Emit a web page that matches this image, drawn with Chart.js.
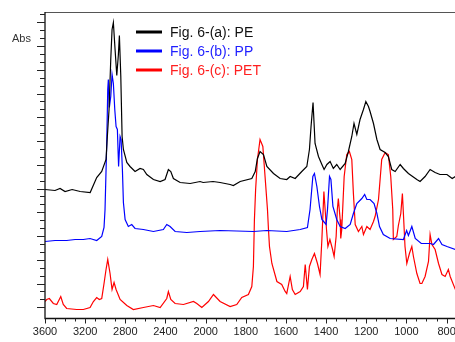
<!DOCTYPE html>
<html>
<head>
<meta charset="utf-8">
<script src="https://cdn.jsdelivr.net/npm/chart.js@4"></script>
<style>
  html, body { margin: 0; padding: 0; background: #fff; }
  canvas { display: block; }
</style>
</head>
<body>
<canvas id="chart" width="455" height="342"></canvas>
<script>
// wavenumbers (cm-1) and absorbance (offset, arbitrary units)
const peWn = [3600,3500,3450,3400,3330,3250,3150,3085,3035,2992,
  2979,2962,2945,2932,2919,2902,2885,2869,2859,2845,
  2832,2819,2785,2753,2703,2653,2620,2586,2520,2453,
  2404,2371,2347,2321,2254,2154,2055,2025,1963,1928,
  1878,1862,1828,1770,1753,1742,1729,1712,1695,1662,
  1629,1596,1579,1554,1521,1496,1483,1475,1468,1465,
  1455,1438,1421,1410,1396,1380,1364,1347,1330,1305,
  1289,1272,1261,1247,1231,1214,1202,1189,1181,1164,
  1147,1131,1106,1090,1073,1056,1031,1015,990,948,
  932,907,882,857,833,798,772,756];
const peAbs = [1.29,1.28,1.30,1.27,1.29,1.27,1.26,1.41,1.47,1.59,
  1.82,2.09,2.59,2.89,2.96,2.69,2.43,2.64,2.83,2.42,
  1.82,1.69,1.56,1.52,1.47,1.50,1.49,1.44,1.39,1.37,
  1.39,1.49,1.47,1.40,1.36,1.35,1.37,1.36,1.37,1.36,
  1.34,1.33,1.37,1.40,1.47,1.60,1.67,1.64,1.52,1.45,
  1.40,1.39,1.42,1.40,1.47,1.52,1.69,1.92,2.09,2.16,
  1.75,1.62,1.54,1.49,1.54,1.57,1.50,1.54,1.49,1.55,
  1.67,1.82,1.95,1.84,1.99,2.09,2.17,2.12,2.07,1.95,
  1.79,1.69,1.66,1.62,1.49,1.47,1.54,1.50,1.45,1.39,
  1.37,1.42,1.49,1.46,1.44,1.44,1.40,1.42];

const ppWn = [3600,3500,3384,3300,3218,3151,3085,3035,3012,3002,
  2985,2975,2969,2959,2945,2932,2919,2905,2892,2879,
  2867,2852,2842,2829,2819,2802,2770,2736,2703,2620,
  2520,2421,2387,2354,2304,2187,2055,1928,1762,1695,
  1596,1529,1493,1480,1466,1458,1446,1433,1421,1400,
  1393,1383,1376,1366,1347,1330,1305,1280,1264,1247,
  1222,1208,1197,1181,1161,1147,1134,1115,1081,1015,
  999,990,973,956,926,881,865,840,823,798,756];
const ppAbs = [0.77,0.78,0.78,0.79,0.79,0.80,0.78,0.82,0.91,1.09,
  1.75,2.29,2.39,2.11,2.22,2.44,2.35,2.09,1.92,1.89,
  1.52,1.82,1.79,1.49,1.16,0.99,0.92,0.94,0.90,0.89,
  0.87,0.89,0.94,0.92,0.87,0.86,0.87,0.88,0.87,0.88,
  0.87,0.89,0.91,1.09,1.42,1.45,1.32,1.12,0.99,0.94,
  1.09,1.42,1.39,1.12,0.99,0.92,0.90,0.94,1.05,1.15,
  1.20,1.24,1.19,1.19,1.15,1.05,0.92,0.84,0.80,0.79,
  0.88,0.83,0.92,0.80,0.75,0.75,0.74,0.80,0.74,0.72,0.69];

const petWn = [3600,3583,3557,3517,3483,3443,3418,3384,3284,3218,
  3151,3118,3085,3059,3035,3012,2992,2975,2952,2932,
  2912,2892,2852,2785,2720,2620,2520,2453,2387,2371,
  2347,2304,2221,2121,2088,2038,1986,1961,1928,1878,
  1845,1820,1787,1770,1762,1757,1751,1742,1729,1715,
  1704,1692,1687,1682,1670,1645,1621,1604,1596,1579,
  1568,1554,1529,1513,1504,1493,1483,1471,1458,1443,
  1430,1421,1411,1398,1391,1381,1369,1360,1350,1344,
  1339,1330,1327,1322,1310,1297,1284,1272,1264,1255,
  1239,1222,1214,1197,1181,1164,1156,1139,1123,1106,
  1090,1078,1068,1065,1048,1040,1028,1020,1015,1007,
  998,985,973,965,948,932,923,907,890,882,
  873,857,840,823,807,791,782,756];
const petAbs = [0.17,0.19,0.20,0.15,0.14,0.22,0.14,0.10,0.09,0.09,
  0.11,0.17,0.21,0.19,0.20,0.35,0.49,0.59,0.45,0.29,
  0.36,0.29,0.19,0.13,0.09,0.11,0.13,0.11,0.20,0.27,
  0.19,0.15,0.14,0.17,0.15,0.11,0.17,0.24,0.17,0.12,
  0.14,0.21,0.24,0.32,0.52,0.99,1.29,1.59,1.79,1.72,
  1.42,1.09,0.89,0.72,0.55,0.37,0.34,0.27,0.25,0.42,
  0.29,0.24,0.27,0.32,0.54,0.29,0.52,0.59,0.65,0.55,
  0.44,0.79,1.27,0.89,0.72,0.79,0.70,0.62,0.82,1.09,
  1.20,0.99,0.80,0.89,1.42,1.64,1.67,1.59,1.25,0.94,
  0.87,0.92,0.84,0.92,0.89,0.97,1.02,1.19,1.59,1.66,
  1.64,1.42,1.09,0.79,0.82,0.93,1.05,1.25,1.05,0.72,
  0.55,0.65,0.72,0.62,0.45,0.35,0.35,0.42,0.57,0.84,
  0.74,0.69,0.55,0.44,0.42,0.49,0.42,0.29];

const seriesLabels = ['Fig. 6-(a): PE', 'Fig. 6-(b): PP', 'Fig. 6-(c): PET'];
const xTickLabels = [3600, 3200, 2800, 2400, 2000, 1800, 1600, 1400, 1200, 1000, 800];

// the wavenumber axis is compressed 2:1 above 2000 cm-1
const toAxis = (wn) => (wn >= 2000 ? (3600 - wn) / 2 : 800 + (2000 - wn));
const points = (wn, abs) => wn.map((w, i) => ({ x: toAxis(w), y: abs[i] }));

const axisFont = '11px "Liberation Sans Narrow", "Liberation Sans", sans-serif';

const frame = {
  id: 'frame',
  afterDatasetsDraw(chart) {
    const { ctx, chartArea: a, scales: { x, y } } = chart;
    ctx.save();

    // top border
    ctx.strokeStyle = '#555';
    ctx.lineWidth = 1;
    ctx.beginPath();
    ctx.moveTo(a.left, a.top + 0.5);
    ctx.lineTo(a.right, a.top + 0.5);
    ctx.stroke();

    // left + bottom axis
    ctx.strokeStyle = '#111';
    ctx.lineWidth = 1.3;
    ctx.beginPath();
    ctx.moveTo(a.left, a.top);
    ctx.lineTo(a.left, a.bottom);
    ctx.lineTo(a.right, a.bottom);
    ctx.stroke();

    // x ticks: every 100 above 2000, every 50 below
    ctx.lineWidth = 1;
    ctx.strokeStyle = '#222';
    const xt = [];
    for (let w = 3600; w > 2000; w -= 100) xt.push(w);
    for (let w = 2000; w >= 760; w -= 50) xt.push(w);
    xt.forEach((w) => {
      const px = Math.round(x.getPixelForValue(toAxis(w))) + 0.5;
      const len = xTickLabels.includes(w) ? 5 : 3;
      ctx.beginPath();
      ctx.moveTo(px, a.bottom);
      ctx.lineTo(px, a.bottom + len);
      ctx.stroke();
    });

    ctx.fillStyle = '#222';
    ctx.font = axisFont;
    ctx.textAlign = 'center';
    ctx.textBaseline = 'alphabetic';
    xTickLabels.forEach((w) => {
      ctx.fillText(String(w), x.getPixelForValue(toAxis(w)), 334.5);
    });

    // y ticks, no labels
    const step = 0.2375 / 3;
    for (let i = 0; ; i++) {
      const v = 0.112 + i * step;
      const py = y.getPixelForValue(v);
      if (py < a.top + 1) break;
      const len = i % 3 === 0 ? 8 : 5;
      ctx.beginPath();
      ctx.moveTo(a.left - len, Math.round(py) + 0.5);
      ctx.lineTo(a.left, Math.round(py) + 0.5);
      ctx.stroke();
    }

    ctx.textAlign = 'left';
    ctx.font = '11px "Liberation Sans", sans-serif';
    ctx.fillStyle = '#333';
    ctx.fillText('Abs', 12, 41.5);
    ctx.textBaseline = 'top';
    ctx.font = '10px "Liberation Sans", sans-serif';
    ctx.fillText('cm-1', 441, 340);

    // legend inside the plot
    ctx.textBaseline = 'alphabetic';
    ctx.font = '14px "Liberation Sans", sans-serif';
    chart.data.datasets.forEach((ds, i) => {
      const ly = 32 + i * 19;
      ctx.strokeStyle = ds.borderColor;
      ctx.lineWidth = 3;
      ctx.beginPath();
      ctx.moveTo(136, ly);
      ctx.lineTo(162, ly);
      ctx.stroke();
      ctx.fillStyle = ds.legendColor;
      ctx.fillText(ds.label, 170, ly + 4.5);
    });

    ctx.restore();
  },
};

new Chart(document.getElementById('chart'), {
  type: 'line',
  data: {
    datasets: [
      { label: seriesLabels[0], data: points(peWn, peAbs), borderColor: '#000000', legendColor: '#111111' },
      { label: seriesLabels[1], data: points(ppWn, ppAbs), borderColor: '#0000ff', legendColor: '#1f1fff' },
      { label: seriesLabels[2], data: points(petWn, petAbs), borderColor: '#ff0000', legendColor: '#ff1f1f' },
    ],
  },
  options: {
    responsive: false,
    animation: false,
    devicePixelRatio: 1,
    layout: { padding: { left: 45, top: 12, right: 0, bottom: 23.5 } },
    elements: {
      point: { radius: 0 },
      line: { borderWidth: 1.2, tension: 0 },
    },
    plugins: {
      legend: { display: false },
      tooltip: { enabled: false },
    },
    scales: {
      x: { type: 'linear', display: false, min: 0, max: toAxis(758) },
      y: { display: false, min: 0, max: 3.065 },
    },
  },
  plugins: [frame],
});
</script>
</body>
</html>
